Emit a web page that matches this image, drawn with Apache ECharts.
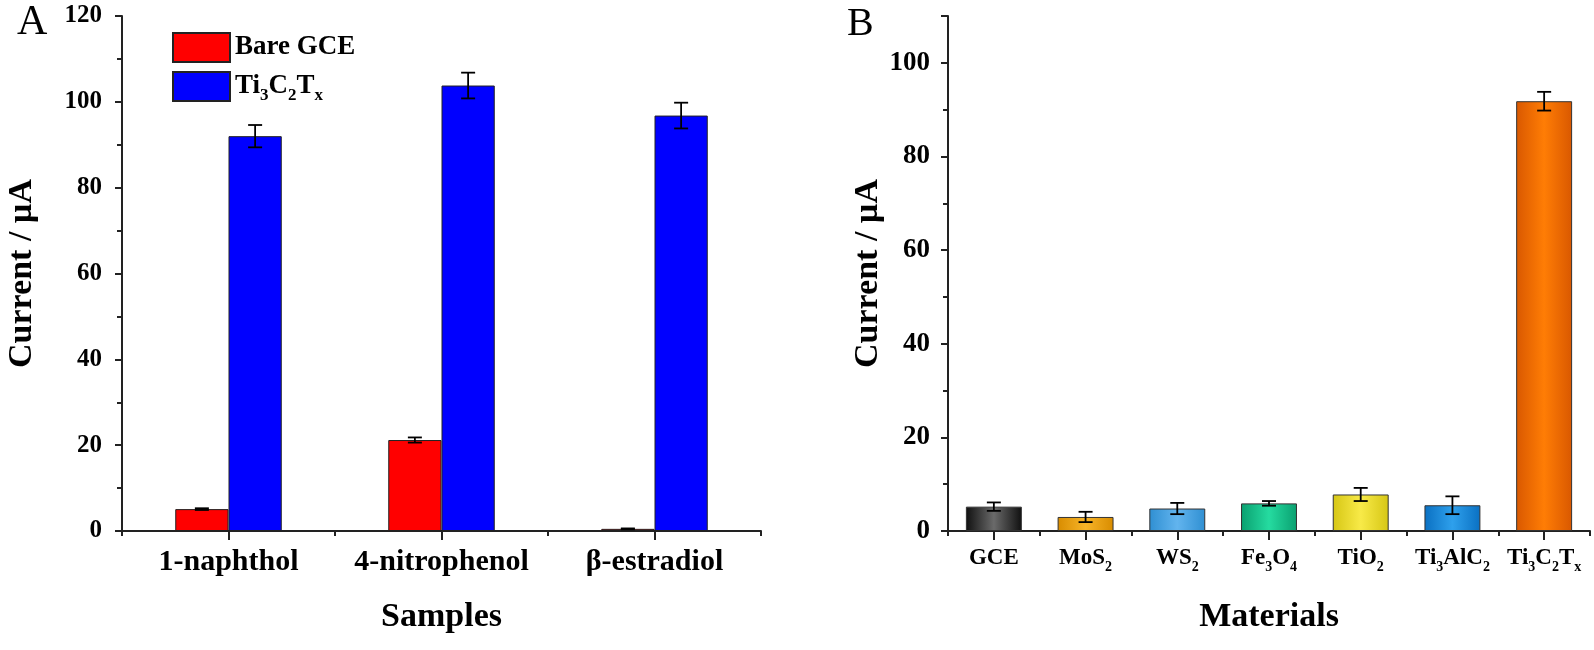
<!DOCTYPE html>
<html><head><meta charset="utf-8">
<script src="https://cdn.jsdelivr.net/npm/echarts@6/dist/echarts.min.js"></script>
<style>html,body{margin:0;padding:0;background:#fff}#c{width:1594px;height:650px}</style>
</head><body><div id="c"></div>
<script>
// ---- Panel A data ----
const samples = ['1-naphthol', '4-nitrophenol', 'β-estradiol'];
const bareGCE = [5.1, 21.2, 0.5];
const bareGCEErr = [0.2, 0.6, 0.1];
const ti3c2tx = [92.0, 103.8, 96.8];
const ti3c2txErr = [2.6, 3.0, 3.0];
const seriesNamesA = ['Bare GCE', 'Ti3C2Tx'];
// ---- Panel B data ----
const materials = ['GCE', 'MoS2', 'WS2', 'Fe3O4', 'TiO2', 'Ti3AlC2', 'Ti3C2Tx'];
const materialCurrent = [5.2, 3.0, 4.8, 5.9, 7.8, 5.5, 91.8];
const materialErr = [0.9, 1.1, 1.2, 0.5, 1.4, 1.9, 2.0];
// ---- styles ----
const edgeColors = ['#101010', '#d88c00', '#2f8fd2', '#0aa070', '#d6c614', '#0a70c2', '#d95800'];
const midColors  = ['#6a6a6a', '#f7b428', '#62b4ee', '#25dba0', '#f8ea48', '#2ea0ec', '#ff7d05'];

const FONT = '"Liberation Serif", "Times New Roman", serif';
function sub(t) {
  let s = t.replace(/(\d+)/g, '}{s|$1}{n|').replace(/x$/, '}{s|x}{n|');
  return '{n|' + s + '}';
}
function richFor(size) {
  return {
    n: {fontFamily: FONT, fontWeight: 'bold', fontSize: size, color: '#000', lineHeight: size + 8},
    s: {fontFamily: FONT, fontWeight: 'bold', fontSize: Math.round(size * 0.62), color: '#000', lineHeight: Math.round(size * 0.62), verticalAlign: 'bottom'}
  };
}
function errItem(offsetFrac) {
  return function (params, api) {
    const x = api.value(0), v = api.value(1), e = api.value(2);
    const band = api.size([1, 0])[0];
    const top = api.coord([x, v + e]);
    const bot = api.coord([x, Math.max(0, v - e)]);
    const cx = top[0] + band * offsetFrac;
    const hw = 7;
    const st = {stroke: '#000', lineWidth: 1.8};
    return {type: 'group', children: [
      {type: 'line', shape: {x1: cx, y1: top[1], x2: cx, y2: bot[1]}, style: st},
      {type: 'line', shape: {x1: cx - hw, y1: top[1], x2: cx + hw, y2: top[1]}, style: st},
      {type: 'line', shape: {x1: cx - hw, y1: bot[1], x2: cx + hw, y2: bot[1]}, style: st}
    ]};
  };
}
const axisLineStyle = {show: true, lineStyle: {color: '#222', width: 2}};
const tickLine = {color: '#222', width: 2};
function lbl(size) { return {color: '#000', fontFamily: FONT, fontWeight: 'bold', fontSize: size}; }
const nameStyle = {color: '#000', fontFamily: FONT, fontWeight: 'bold', fontSize: 34};

const chart = echarts.init(document.getElementById('c'), null, {renderer: 'canvas'});
chart.setOption({
  animation: false,
  backgroundColor: '#fff',
  graphic: [
    {type: 'text', left: 17, top: 2, style: {text: 'A', font: '42px ' + FONT, fill: '#000'}},
    {type: 'text', left: 847, top: 4, style: {text: 'B', font: '40px ' + FONT, fill: '#000'}}
  ],
  legend: {
    data: seriesNamesA, orient: 'vertical', left: 172, top: 32, padding: 0, itemWidth: 57, itemHeight: 29, itemGap: 8,
    icon: 'rect',
    formatter: name => sub(name),
    textStyle: {rich: richFor(27)}
  },
  grid: [
    {left: 122, top: 16, width: 639, bottom: 119},
    {left: 948, top: 16, width: 642, bottom: 119}
  ],
  xAxis: [
    {type: 'category', gridIndex: 0, data: samples, position: 'bottom',
      axisLine: axisLineStyle, axisTick: {show: true, alignWithLabel: false, length: 5, lineStyle: tickLine},
      axisLabel: Object.assign({margin: 16, interval: 0}, lbl(30)),
      name: 'Samples', nameLocation: 'middle', nameGap: 69, nameTextStyle: nameStyle},
    {type: 'category', gridIndex: 0, data: samples, position: 'bottom',
      axisLine: {show: false}, axisTick: {show: true, alignWithLabel: true, length: 9, lineStyle: tickLine},
      axisLabel: {show: false}},
    {type: 'category', gridIndex: 1, data: materials, position: 'bottom',
      axisLine: axisLineStyle, axisTick: {show: true, alignWithLabel: false, length: 5, lineStyle: tickLine},
      axisLabel: {margin: 12, interval: 0, formatter: v => sub(v), rich: richFor(23)},
      name: 'Materials', nameLocation: 'middle', nameGap: 69, nameTextStyle: nameStyle},
    {type: 'category', gridIndex: 1, data: materials, position: 'bottom',
      axisLine: {show: false}, axisTick: {show: true, alignWithLabel: true, length: 9, lineStyle: tickLine},
      axisLabel: {show: false}}
  ],
  yAxis: [
    {type: 'value', gridIndex: 0, min: 0, max: 120, interval: 20,
      axisLine: axisLineStyle, axisTick: {show: true, length: 7, lineStyle: tickLine},
      minorTick: {show: true, splitNumber: 2, length: 5, lineStyle: tickLine},
      splitLine: {show: false}, axisLabel: Object.assign({margin: 20}, lbl(25)),
      name: 'Current / µA', nameLocation: 'middle', nameRotate: 90, nameGap: 83, nameTextStyle: nameStyle},
    {type: 'value', gridIndex: 1, min: 0, max: 110, interval: 20,
      axisLine: axisLineStyle, axisTick: {show: true, length: 7, lineStyle: tickLine},
      minorTick: {show: true, splitNumber: 2, length: 5, lineStyle: tickLine},
      splitLine: {show: false}, axisLabel: Object.assign({margin: 18, showMaxLabel: false}, lbl(27)),
      name: 'Current / µA', nameLocation: 'middle', nameRotate: 90, nameGap: 62, nameTextStyle: nameStyle}
  ],
  series: [
    {name: seriesNamesA[0], type: 'bar', xAxisIndex: 0, yAxisIndex: 0, data: bareGCE,
      barGap: '0%', barCategoryGap: '50%',
      itemStyle: {color: '#ff0000', borderColor: '#222', borderWidth: 1}},
    {name: seriesNamesA[1], type: 'bar', xAxisIndex: 0, yAxisIndex: 0, data: ti3c2tx,
      barGap: '0%', barCategoryGap: '50%',
      itemStyle: {color: '#0000ff', borderColor: '#222', borderWidth: 1}},
    {type: 'custom', xAxisIndex: 0, yAxisIndex: 0, renderItem: errItem(-0.125), z: 5,
      data: bareGCE.map((v, i) => [i, v, bareGCEErr[i]])},
    {type: 'custom', xAxisIndex: 0, yAxisIndex: 0, renderItem: errItem(0.125), z: 5,
      data: ti3c2tx.map((v, i) => [i, v, ti3c2txErr[i]])},
    {type: 'bar', xAxisIndex: 2, yAxisIndex: 1, barCategoryGap: '39%',
      data: materialCurrent.map((v, i) => ({value: v, itemStyle: {
        color: new echarts.graphic.LinearGradient(0, 0, 1, 0, [
          {offset: 0, color: edgeColors[i]}, {offset: 0.5, color: midColors[i]}, {offset: 1, color: edgeColors[i]}]),
        borderColor: '#333', borderWidth: 1}}))},
    {type: 'custom', xAxisIndex: 2, yAxisIndex: 1, renderItem: errItem(0), z: 5,
      data: materialCurrent.map((v, i) => [i, v, materialErr[i]])}
  ]
});
</script></body></html>
